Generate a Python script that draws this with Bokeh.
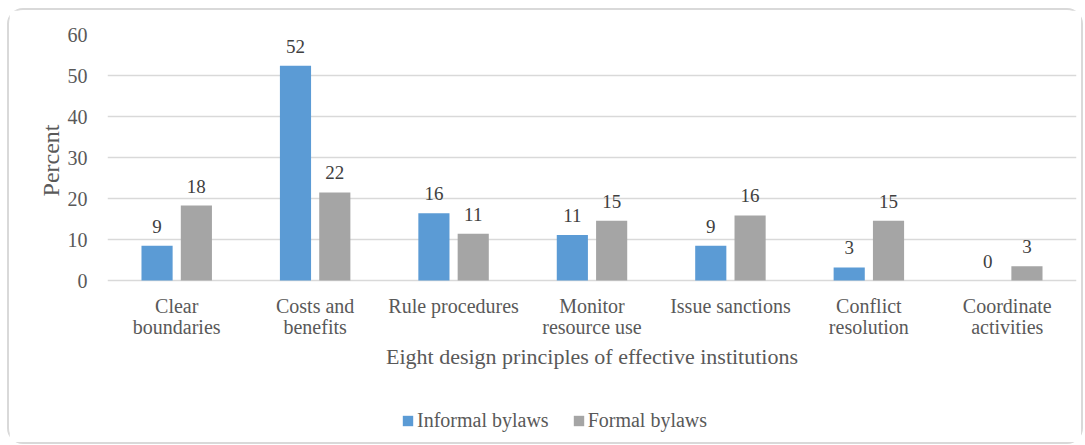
from bokeh.plotting import figure
from bokeh.models import ColumnDataSource, FixedTicker, Legend, LegendItem, Title
from bokeh.transform import dodge
from bokeh.core.properties import value
from bokeh.embed import file_html
from bokeh.resources import INLINE

categories = ["Clear\nboundaries", "Costs and\nbenefits", "Rule procedures",
              "Monitor\nresource use", "Issue sanctions", "Conflict\nresolution",
              "Coordinate\nactivities"]
informal_values = [8.5, 52.4, 16.4, 11.1, 8.5, 3.2, 0.0]
formal_values = [18.3, 21.5, 11.4, 14.6, 15.9, 14.6, 3.5]
informal_labels = ["9", "52", "16", "11", "9", "3", "0"]
formal_labels = ["18", "22", "11", "15", "16", "15", "3"]
y_ticks = [0, 10, 20, 30, 40, 50, 60]
series_names = ["Informal bylaws", "Formal bylaws"]
x_title = "Eight design principles of effective institutions"
y_title = "Percent"

FONT = "'Liberation Serif', serif"
BLUE = "#5B9BD5"
GREY = "#A5A5A5"
TXT = "#595959"

src = ColumnDataSource(dict(cat=categories, inf=informal_values, frm=formal_values,
                            inf_lab=informal_labels, frm_lab=formal_labels))

# the frame reaches down to hold the category labels, axis title and legend
p = figure(x_range=categories, y_range=(-38, 60), width=1076, height=436,
           output_backend="svg", toolbar_location=None, x_axis_location=None,
           min_border_left=98, min_border_right=9, min_border_top=24,
           min_border_bottom=10)
p.styles = {"position": "relative", "left": "7px", "top": "8px",
            "border": "2px solid #D9D9D9", "border-radius": "16px"}
p.outline_line_color = None
p.background_fill_color = "white"
p.border_fill_color = "white"

r1 = p.vbar(x=dodge("cat", -0.142, range=p.x_range), top="inf", width=0.225,
            source=src, fill_color=BLUE, line_color=None)
r2 = p.vbar(x=dodge("cat", 0.142, range=p.x_range), top="frm", width=0.225,
            source=src, fill_color=GREY, line_color=None)

for off, col, lab in [(-0.142, "inf", "inf_lab"), (0.142, "frm", "frm_lab")]:
    p.text(x=dodge("cat", off, range=p.x_range), y=col, text=lab, source=src,
           text_font=value(FONT), text_font_size="19px", text_color="#404040",
           text_align="center", text_baseline="bottom", y_offset=-13)

# category labels under the zero line
p.text(x="cat", y=0, text="cat", source=src, text_font=value(FONT),
       text_font_size="20px", text_color=TXT, text_align="center",
       text_baseline="top", text_line_height=0.95, y_offset=14)

# x axis title, centred on the middle category
p.text(x=[categories[3]], y=[0], text=[x_title], text_font=value(FONT),
       text_font_size="22px", text_color=TXT, text_align="center",
       text_baseline="middle", y_offset=76)

# y axis
p.yaxis.ticker = FixedTicker(ticks=y_ticks)
p.yaxis.axis_line_color = None
p.yaxis.major_tick_line_color = None
p.yaxis.minor_tick_line_color = None
p.yaxis.major_label_text_font = FONT
p.yaxis.major_label_text_font_size = "20px"
p.yaxis.major_label_text_color = TXT
p.yaxis.major_label_standoff = 14

p.add_layout(Title(text=y_title, align="right", offset=90, standoff=2,
                   text_font=FONT, text_font_size="24px", text_font_style="normal",
                   text_color=TXT), "left")

p.xgrid.grid_line_color = None
p.ygrid.ticker = FixedTicker(ticks=y_ticks)
p.ygrid.grid_line_color = "#D9D9D9"
p.ygrid.grid_line_width = 1.5

legend = Legend(items=[LegendItem(label=series_names[0], renderers=[r1]),
                       LegendItem(label=series_names[1], renderers=[r2])],
                location=(294, 4), orientation="horizontal",
                glyph_width=13, glyph_height=13, label_standoff=3, spacing=23,
                padding=0, margin=0, border_line_color=None,
                background_fill_alpha=0,
                label_text_font=FONT, label_text_font_size="20px",
                label_text_color=TXT)
p.add_layout(legend, "center")

open("out.html", "w").write(file_html(p, INLINE))
